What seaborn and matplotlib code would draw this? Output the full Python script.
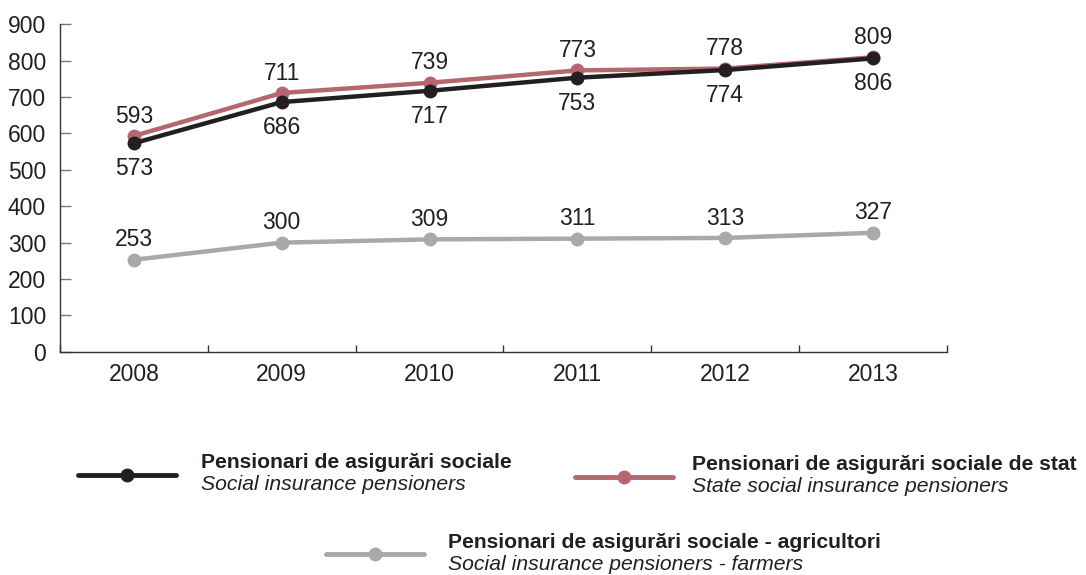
import numpy as np
import pandas as pd
import seaborn as sns
import matplotlib.pyplot as plt
from matplotlib.lines import Line2D

years = ["2008", "2009", "2010", "2011", "2012", "2013"]
social = [573, 686, 717, 753, 774, 806]
state = [593, 711, 739, 773, 778, 809]
farmers = [253, 300, 309, 311, 313, 327]

names_ro = ["Pensionari de asigurări sociale",
            "Pensionari de asigurări sociale de stat",
            "Pensionari de asigurări sociale - agricultori"]
names_en = ["Social insurance pensioners",
            "State social insurance pensioners",
            "Social insurance pensioners - farmers"]
colors = ["#231f20", "#b5676e", "#a7a9ac"]

sns.set_style("white")
plt.rcParams["font.family"] = ["Liberation Sans", "DejaVu Sans"]

fig = plt.figure(figsize=(10.86, 5.75), dpi=100)
ax = fig.add_axes([0.0552, 0.388, 0.8168, 0.570])

idx = np.arange(len(years))
series = [social, state, farmers]
# draw grey first, black last so black sits on top
for k in [2, 1, 0]:
    df = pd.DataFrame({"x": idx, "v": series[k]})
    sns.lineplot(data=df, x="x", y="v", ax=ax, color=colors[k], linewidth=3.2,
                 marker="o", markersize=10, markeredgewidth=0, zorder=3 + (2 - k))

fs = 16.5
for i in idx:
    ax.annotate(str(state[i]), (i, state[i]), xytext=(0, 6), textcoords="offset points",
                ha="center", va="bottom", fontsize=fs, color="#231f20")
    ax.annotate(str(social[i]), (i, social[i]), xytext=(0, -10), textcoords="offset points",
                ha="center", va="top", fontsize=fs, color="#231f20")
    ax.annotate(str(farmers[i]), (i, farmers[i]), xytext=(0, 6), textcoords="offset points",
                ha="center", va="bottom", fontsize=fs, color="#231f20")

ax.set_xlim(-0.5, len(years) - 0.5)
ax.set_ylim(0, 900)
ax.set_yticks(range(0, 901, 100))
ax.tick_params(axis="y", left=True, direction="in", length=8, width=1, color="#777777",
               labelsize=fs, labelcolor="#231f20", pad=10)
ax.set_xticks(np.arange(-0.5, len(years), 1.0))
ax.set_xticklabels([])
ax.tick_params(axis="x", which="major", bottom=True, direction="in", length=5, width=1,
               color="#333333")
ax.set_xticks(idx, minor=True)
ax.set_xticklabels(years, minor=True)
ax.tick_params(axis="x", which="minor", length=0, labelsize=fs, labelcolor="#231f20", pad=8)
ax.set_xlabel("")
ax.set_ylabel("")
for s in ["top", "right"]:
    ax.spines[s].set_visible(False)
for s in ["left", "bottom"]:
    ax.spines[s].set_color("#333333")
    ax.spines[s].set_linewidth(1)

# legend drawn by hand: line sample plus two-line label
W, H = 1086, 575
legend_pos = [(78, 475, 201), (575, 477, 692), (326, 554, 448)]
for k, (x0, y0, tx) in enumerate(legend_pos):
    fig.add_artist(Line2D([x0 / W, (x0 + 98) / W], [1 - y0 / H] * 2, color=colors[k],
                          linewidth=3.5, transform=fig.transFigure))
    fig.add_artist(Line2D([(x0 + 49) / W], [1 - y0 / H], color=colors[k], marker="o",
                          markersize=10, markeredgewidth=0, transform=fig.transFigure))
    fig.text(tx / W, 1 - (y0 - 12) / H, names_ro[k], fontsize=15.2, fontweight="bold",
             color="#231f20", va="center", ha="left")
    fig.text(tx / W, 1 - (y0 + 10) / H, names_en[k], fontsize=15.2, fontstyle="italic",
             color="#231f20", va="center", ha="left")

fig.savefig("out.png", dpi=100)
